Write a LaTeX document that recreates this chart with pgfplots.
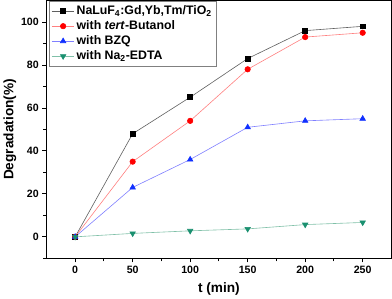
\documentclass[border=0pt]{standalone}
\usepackage{pgfplots}
\pgfplotsset{compat=1.18}
\usepackage{fontspec}
\setmainfont{Liberation Sans}
\definecolor{gline}{HTML}{606060}
\definecolor{rline}{HTML}{FF8080}
\definecolor{bline}{HTML}{8080FF}
\definecolor{tline}{HTML}{80C0A8}
\definecolor{tmark}{HTML}{1A9070}
\definecolor{bmark}{HTML}{1030FF}
\begin{document}
\begin{tikzpicture}
\begin{axis}[
  scale only axis,
  width=340bp, height=254bp,
  xmin=-25, xmax=275, ymin=-10, ymax=110,
  xtick={0,50,100,150,200,250},
  ytick={0,20,40,60,80,100},
  minor xtick={25,75,125,175,225},
  minor ytick={-10,10,30,50,70,90},
  tick align=outside,
  xtick pos=bottom, ytick pos=left,
  major tick length=4bp, minor tick length=3bp,
  axis line style={line width=1.1pt},
  every tick/.style={line width=0.9pt, black},
  tick label style={font=\bfseries\fontsize{10.5}{11}\selectfont},
  /pgf/number format/assume math mode=true,
  xlabel={\bfseries t (min)},
  ylabel={\bfseries Degradation(\%)},
  label style={font=\bfseries\fontsize{13.5}{14}\selectfont},
  xlabel style={yshift=-2bp},
  ylabel style={yshift=-2bp},
  legend style={at={(0.007,0.998)}, anchor=north west, draw=gray, line width=0.6pt,
    font=\bfseries\fontsize{12.2}{13}\selectfont, row sep=0.5bp, inner sep=2.5bp},
  legend cell align=left,
  legend image code/.code={\draw[#1] (0bp,0bp) -- (22bp,0bp); \draw[#1,mark repeat=2,mark phase=2] plot coordinates {(0bp,0bp) (11bp,0bp) (22bp,0bp)};},
]
\addplot[gline, line width=0.6pt, mark=square*, mark options={black, fill=black, solid}, mark size=2.4pt] coordinates {
(0,0) (50,48) (100,65) (150,83) (200,96) (250,98)};
\addlegendentry{NaLuF\textsubscript{4}:Gd,Yb,Tm/TiO\textsubscript{2}}
\addplot[rline, line width=0.6pt, mark=*, mark options={red, fill=red}, mark size=2.7pt] coordinates {
(0,0) (50,35) (100,54) (150,78) (200,93) (250,95)};
\addlegendentry{with \textit{tert}-Butanol}
\addplot[bline, line width=0.6pt, mark=triangle*, mark options={bmark, fill=bmark}, mark size=3.1pt] coordinates {
(0,0) (50,23) (100,36) (150,51) (200,54) (250,55)};
\addlegendentry{with BZQ}
\addplot[tline, line width=0.6pt, mark=triangle*, mark options={tmark, fill=tmark, rotate=180}, mark size=3.1pt] coordinates {
(0,0) (50,1.6) (100,2.8) (150,3.7) (200,5.7) (250,6.7)};
\addlegendentry{with Na\textsubscript{2}-EDTA}
\end{axis}
\end{tikzpicture}
\end{document}
